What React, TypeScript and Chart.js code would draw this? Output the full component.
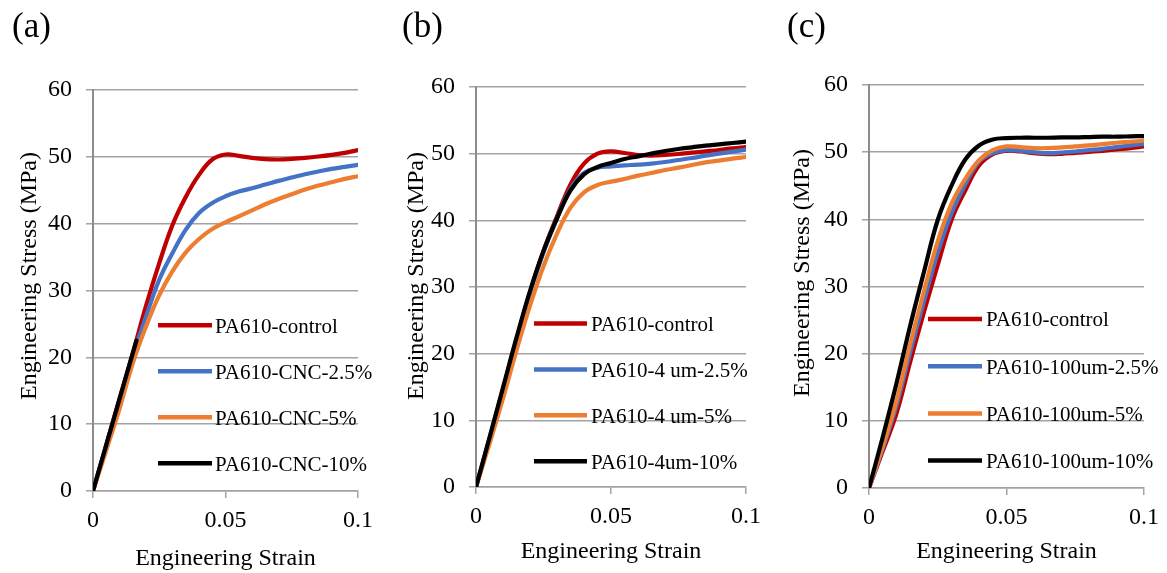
import React, { useEffect, useRef } from "react";
import { Chart, registerables } from "chart.js";

Chart.register(...registerables);

// ---------- data ----------
const STRAIN = [0, 0.005, 0.01, 0.015, 0.02, 0.025, 0.03, 0.035, 0.04, 0.045, 0.05, 0.055, 0.06, 0.065, 0.07, 0.075, 0.08, 0.085, 0.09, 0.095, 0.1];
const STRAIN_A_CNC10 = [0, 0.004, 0.008, 0.012, 0.0164];

// Panel (a)
const A_CONTROL = [0, 6.9, 13.8, 20.6, 27.7, 34.1, 39.8, 44.0, 47.3, 49.6, 50.35, 50.15, 49.85, 49.65, 49.6, 49.7, 49.85, 50.05, 50.3, 50.6, 51.0];
const A_CNC25 = [0, 6.8, 13.6, 20.2, 26.1, 31.6, 35.6, 39.1, 41.6, 43.1, 44.1, 44.8, 45.3, 45.85, 46.4, 46.9, 47.4, 47.8, 48.2, 48.5, 48.8];
const A_CNC5 = [0, 6.1, 12.3, 19.1, 24.6, 29.3, 32.9, 35.7, 37.7, 39.2, 40.2, 41.1, 42.0, 42.9, 43.7, 44.4, 45.1, 45.7, 46.2, 46.7, 47.1];
const A_CNC10 = [0, 5.5, 11.0, 16.5, 22.5];

// Panel (b)
const B_CONTROL = [0, 7.2, 14.6, 22.1, 29.2, 35.4, 40.6, 45.4, 48.5, 50.0, 50.35, 50.1, 49.8, 49.7, 49.8, 49.95, 50.15, 50.35, 50.55, 50.8, 51.0];
const B_4UM25 = [0, 7.2, 14.6, 22.0, 29.1, 35.2, 40.3, 44.7, 47.1, 47.9, 48.1, 48.25, 48.35, 48.5, 48.75, 49.05, 49.35, 49.7, 50.0, 50.3, 50.6];
const B_4UM5 = [0, 6.5, 13.3, 20.5, 27.2, 33.1, 38.0, 41.9, 44.2, 45.3, 45.8, 46.2, 46.7, 47.1, 47.55, 47.9, 48.3, 48.7, 48.95, 49.25, 49.5];
const B_4UM10 = [0, 7.4, 14.9, 22.4, 29.4, 35.4, 40.3, 44.5, 46.9, 48.0, 48.6, 49.2, 49.6, 50.0, 50.4, 50.7, 50.95, 51.2, 51.4, 51.6, 51.8];

// Panel (c)
const C_CONTROL = [0, 5.5, 11.1, 18.8, 26.2, 33.2, 39.9, 44.3, 48.0, 49.7, 50.2, 50.1, 49.85, 49.7, 49.75, 49.9, 50.05, 50.2, 50.4, 50.6, 50.85];
const C_100UM25 = [0, 5.9, 12.3, 20.2, 27.8, 35.0, 40.9, 45.2, 48.6, 49.85, 50.3, 50.2, 50.0, 49.85, 49.95, 50.1, 50.3, 50.5, 50.75, 51.0, 51.25];
const C_100UM5 = [0, 6.2, 13.0, 21.4, 29.3, 36.7, 42.3, 46.0, 48.8, 50.3, 50.85, 50.75, 50.6, 50.6, 50.7, 50.85, 51.0, 51.2, 51.4, 51.55, 51.7];
const C_100UM10 = [0, 7.6, 15.6, 24.2, 32.2, 39.9, 45.0, 48.9, 51.0, 51.9, 52.1, 52.15, 52.15, 52.15, 52.2, 52.2, 52.25, 52.3, 52.3, 52.35, 52.4];

const LABELS_A = ["PA610-control", "PA610-CNC-2.5%", "PA610-CNC-5%", "PA610-CNC-10%"];
const LABELS_B = ["PA610-control", "PA610-4 um-2.5%", "PA610-4 um-5%", "PA610-4um-10%"];
const LABELS_C = ["PA610-control", "PA610-100um-2.5%", "PA610-100um-5%", "PA610-100um-10%"];

const X_MIN = 0, X_MAX = 0.1, X_STEP = 0.05;
const Y_MIN = 0, Y_MAX = 60, Y_STEP = 10;
const X_TITLE = "Engineering Strain";
const Y_TITLE = "Engineering Stress (MPa)";

// ---------- styles ----------
const COLORS = ["#C00000", "#4472C4", "#ED7D31", "#000000"];
const SERIF = "'Liberation Serif', 'Times New Roman', serif";
const GRID = "#a3a3a3";
const AXIS = "#8c8c8c";

type Layout = {
  tag: string; left: number; yW: number; padR: number; padT: number; xH: number; titlePB: number;
  tagX: number; tagY: number; yTitleX: number; yTitleY: number;
  legX0: number; legX1: number; legTextX: number; legY: number; legGap: number;
};

const PANEL_W = 389;
const PANEL_H = 573;

function Panel({ layout, series }: { layout: Layout; series: { label: string; xs: number[]; ys: number[] }[] }) {
  const ref = useRef<HTMLCanvasElement | null>(null);
  useEffect(() => {
    if (!ref.current) return;
    const p = layout;
    const overlay = {
      id: "overlay" + p.tag,
      afterDraw(chart: any) {
        const ctx = chart.ctx as CanvasRenderingContext2D;
        ctx.save();
        ctx.fillStyle = "#000";
        ctx.textAlign = "left";
        ctx.textBaseline = "alphabetic";
        ctx.font = `35px ${SERIF}`;
        ctx.fillText(p.tag, p.tagX, p.tagY);
        ctx.save();
        ctx.translate(p.yTitleX, p.yTitleY);
        ctx.rotate(-Math.PI / 2);
        ctx.textAlign = "center";
        ctx.font = `24px ${SERIF}`;
        ctx.fillText(Y_TITLE, 0, 0);
        ctx.restore();
        chart.data.datasets.forEach((ds: any, i: number) => {
          const y = p.legY + i * p.legGap;
          ctx.strokeStyle = ds.borderColor;
          ctx.lineWidth = 4.5;
          ctx.lineCap = "butt";
          ctx.beginPath();
          ctx.moveTo(p.legX0, y);
          ctx.lineTo(p.legX1, y);
          ctx.stroke();
          ctx.font = `21px ${SERIF}`;
          ctx.fillStyle = "#000";
          ctx.textAlign = "left";
          ctx.fillText(ds.label, p.legTextX, y + 7.3);
        });
        ctx.restore();
      },
    };
    const chart = new Chart(ref.current, {
      type: "line",
      data: {
        datasets: series.map((s, i) => ({
          label: s.label,
          data: s.xs.map((x, j) => ({ x, y: s.ys[j] })),
          borderColor: COLORS[i],
          backgroundColor: COLORS[i],
          borderWidth: 4.2,
          pointRadius: 0,
          fill: false,
          tension: 0.4,
          borderCapStyle: "round",
          borderJoinStyle: "round",
          order: 4 - i,
        })),
      },
      options: {
        animation: false,
        responsive: false,
        maintainAspectRatio: false,
        devicePixelRatio: 1,
        layout: { padding: { left: 0, right: p.padR, top: p.padT, bottom: 0 } },
        plugins: { legend: { display: false }, tooltip: { enabled: false }, title: { display: false } },
        scales: {
          x: {
            type: "linear",
            min: X_MIN,
            max: X_MAX,
            ticks: {
              stepSize: X_STEP,
              color: "#000",
              padding: 8,
              maxRotation: 0,
              font: { family: SERIF, size: 24 },
              callback: (v: any) => String(Number(Number(v).toFixed(3))),
            },
            grid: { drawOnChartArea: false, drawTicks: true, tickLength: 7, color: GRID, lineWidth: 1.5 },
            border: { display: true, color: GRID, width: 1.5 },
            title: {
              display: true,
              text: X_TITLE,
              color: "#000",
              font: { family: SERIF, size: 24 },
              padding: { top: 0, bottom: p.titlePB },
            },
            afterFit: (s: any) => { s.height = p.xH; },
          },
          y: {
            type: "linear",
            min: Y_MIN,
            max: Y_MAX,
            ticks: { stepSize: Y_STEP, color: "#000", padding: 14, font: { family: SERIF, size: 24 } },
            grid: { drawOnChartArea: true, drawTicks: true, tickLength: 7, color: GRID, lineWidth: 1.5 },
            border: { display: true, color: AXIS, width: 2 },
            afterFit: (s: any) => { s.width = p.yW; },
          },
        },
      },
      plugins: [overlay],
    } as any);
    return () => chart.destroy();
  }, [layout, series]);
  return (
    <canvas
      ref={ref}
      width={PANEL_W}
      height={PANEL_H}
      style={{ position: "absolute", left: layout.left, top: 0, width: PANEL_W, height: PANEL_H }}
    />
  );
}

const LAYOUT_A: Layout = { tag: "(a)", left: 0, yW: 93, padR: 31, padT: 90, xH: 82, titlePB: 0, tagX: 12, tagY: 37, yTitleX: 36, yTitleY: 276, legX0: 158, legX1: 212, legTextX: 215, legY: 325.3, legGap: 46 };
const LAYOUT_B: Layout = { tag: "(b)", left: 389, yW: 87, padR: 32, padT: 87, xH: 86, titlePB: 7, tagX: 13, tagY: 37, yTitleX: 33.6, yTitleY: 276, legX0: 145, legX1: 198, legTextX: 202, legY: 323.5, legGap: 45.9 };
const LAYOUT_C: Layout = { tag: "(c)", left: 778, yW: 91, padR: 19, padT: 85, xH: 85, titlePB: 7, tagX: 9, tagY: 37, yTitleX: 31.2, yTitleY: 273, legX0: 150, legX1: 204, legTextX: 208, legY: 319, legGap: 47.2 };

const SERIES_A = [
  { label: LABELS_A[0], xs: STRAIN, ys: A_CONTROL },
  { label: LABELS_A[1], xs: STRAIN, ys: A_CNC25 },
  { label: LABELS_A[2], xs: STRAIN, ys: A_CNC5 },
  { label: LABELS_A[3], xs: STRAIN_A_CNC10, ys: A_CNC10 },
];
const SERIES_B = [
  { label: LABELS_B[0], xs: STRAIN, ys: B_CONTROL },
  { label: LABELS_B[1], xs: STRAIN, ys: B_4UM25 },
  { label: LABELS_B[2], xs: STRAIN, ys: B_4UM5 },
  { label: LABELS_B[3], xs: STRAIN, ys: B_4UM10 },
];
const SERIES_C = [
  { label: LABELS_C[0], xs: STRAIN, ys: C_CONTROL },
  { label: LABELS_C[1], xs: STRAIN, ys: C_100UM25 },
  { label: LABELS_C[2], xs: STRAIN, ys: C_100UM5 },
  { label: LABELS_C[3], xs: STRAIN, ys: C_100UM10 },
];

export default function App() {
  return (
    <div style={{ position: "absolute", left: 0, top: 0, width: 1167, height: 573, background: "#fff", overflow: "hidden" }}>
      <Panel layout={LAYOUT_A} series={SERIES_A} />
      <Panel layout={LAYOUT_B} series={SERIES_B} />
      <Panel layout={LAYOUT_C} series={SERIES_C} />
    </div>
  );
}
